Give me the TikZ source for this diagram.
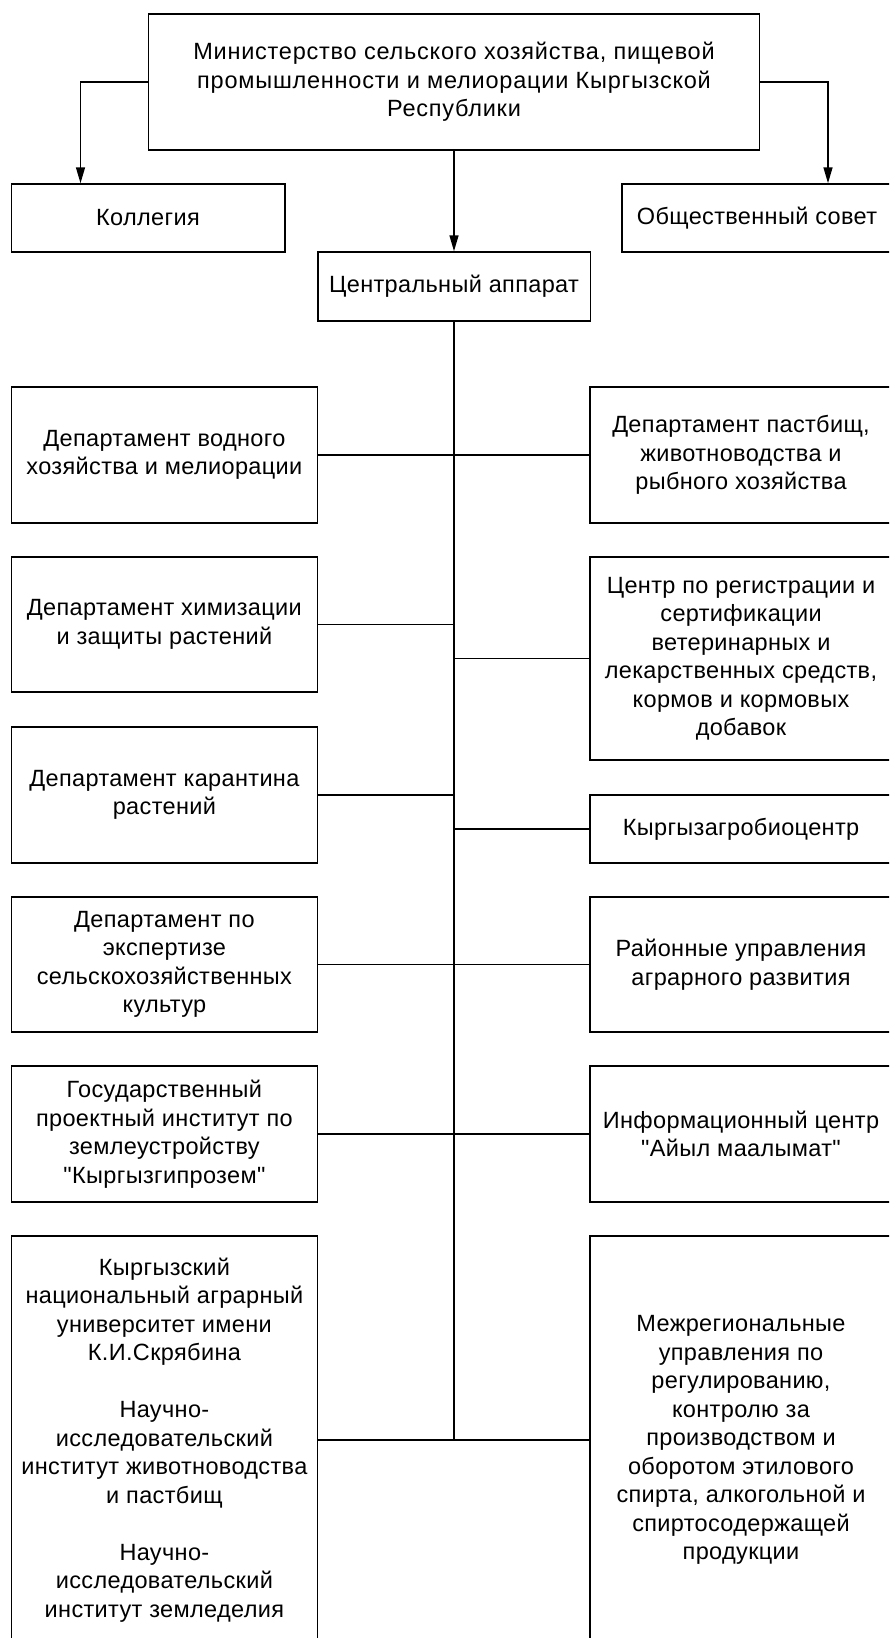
\documentclass[tikz,border=0pt]{standalone}
\usepackage{fontspec}
\setmainfont{Liberation Sans}[Ligatures=TeXOff, LetterSpace=1.5]
\newfontfamily\minfont{Liberation Sans}[Ligatures=TeXOff, LetterSpace=3.3]
\usetikzlibrary{arrows.meta}
\begin{document}
\begin{tikzpicture}[x=1pt,y=-1pt,
  box/.style={draw, line width=1.5pt, rectangle, align=center, inner sep=0pt,
              font=\fontsize{23.5}{28.5}\selectfont},
  lbox/.style={box, minimum width=306pt},
  rbox/.style={box, minimum width=302pt},
  conn/.style={line width=1.5pt},
  arr/.style={line width=1.5pt, -{Triangle[width=9pt,length=16pt]}}]
\useasboundingbox (0,0) rectangle (889,1638);
\fill[white] (0,0) rectangle (889,1638);
\clip (0,0) rectangle (889,1638);

\node[box, minimum width=611pt, minimum height=136pt, font=\minfont\fontsize{23.5}{28.5}\selectfont] (min) at (454,82)
  {Министерство сельского хозяйства, пищевой\\промышленности и мелиорации Кыргызской\\Республики};
\node[box, minimum width=273.5pt, minimum height=68pt] (kol) at (148,218) {Коллегия};
\node[box, minimum width=270pt, minimum height=68pt] (obs) at (757,218) {Общественный совет};
\node[box, minimum width=272.5pt, minimum height=69pt] (cen) at (454,286.5) {Центральный аппарат};

\node[lbox, minimum height=136pt] (l1) at (164.4,455) {Департамент водного\\хозяйства и мелиорации};
\node[rbox, minimum height=136pt] (r1) at (741,455) {Департамент пастбищ,\\животноводства и\\рыбного хозяйства};
\node[lbox, minimum height=135pt] (l2) at (164.4,624.5) {Департамент химизации\\и защиты растений};
\node[rbox, minimum height=203pt] (r2) at (741,658.5) {Центр по регистрации и\\сертификации\\ветеринарных и\\лекарственных средств,\\кормов и кормовых\\добавок};
\node[lbox, minimum height=136pt] (l3) at (164.4,795) {Департамент карантина\\растений};
\node[rbox, minimum height=68pt] (r3) at (741,829) {Кыргызагробиоцентр};
\node[lbox, minimum height=135pt] (l4) at (164.4,964.5) {Департамент по\\экспертизе\\сельскохозяйственных\\культур};
\node[rbox, minimum height=135pt] (r4) at (741,964.5) {Районные управления\\аграрного развития};
\node[lbox, minimum height=136pt] (l5) at (164.4,1134) {Государственный\\проектный институт по\\землеустройству\\"Кыргызгипрозем"};
\node[rbox, minimum height=136pt] (r5) at (741,1134) {Информационный центр\\"Айыл маалымат"};
\node[lbox, minimum height=408pt] (l6) at (164.4,1440) {Кыргызский\\национальный аграрный\\университет имени\\К.И.Скрябина\\[28.5pt]Научно-\\исследовательский\\институт животноводства\\и пастбищ\\[28.5pt]Научно-\\исследовательский\\институт земледелия};
\node[rbox, minimum height=408pt] (r6) at (741,1440) {Межрегиональные\\управления по\\регулированию,\\контролю за\\производством и\\оборотом этилового\\спирта, алкогольной и\\спиртосодержащей\\продукции};

% arrows from the ministry
\draw[arr] (min.west) -| ([xshift=-67.5pt]kol.north);
\draw[arr] (min.east) -| ([xshift=71pt]obs.north);
\draw[arr] (min.south) -- (cen.north);

% trunk
\coordinate (tend) at (cen.south |- l6.east);
\draw[conn] (cen.south) -- (tend);

% branches
\foreach \n in {l1,l2,l3,l4,l5,l6}
  \draw[conn] (\n.east) -- (\n.east -| cen.south);
\foreach \n in {r1,r2,r3,r4,r5,r6}
  \draw[conn] (\n.west -| cen.south) -- (\n.west);
\end{tikzpicture}
\end{document}
